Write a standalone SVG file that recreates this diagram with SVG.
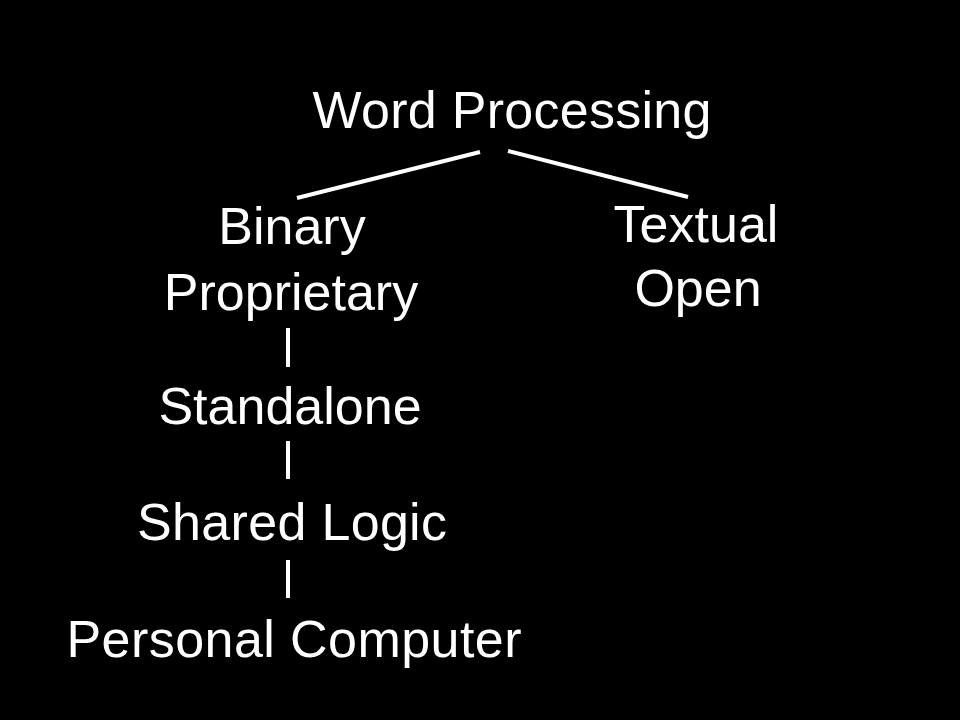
<svg xmlns="http://www.w3.org/2000/svg" width="960" height="720" viewBox="0 0 960 720">
<style>
text{font-family:"Liberation Sans",Arial,sans-serif;font-size:52px;fill:#fff;text-anchor:middle}
.c{stroke:#fff;stroke-width:4;fill:none}
</style>
<rect width="960" height="720" fill="#000"/>
<g id="connectors">
<line class="c" x1="297" y1="198" x2="480" y2="152"/>
<line class="c" x1="508" y1="151" x2="688" y2="197"/>
<line class="c" x1="288" y1="328" x2="288" y2="367"/>
<line class="c" x1="288" y1="441" x2="288" y2="479"/>
<line class="c" x1="288" y1="560" x2="288" y2="598"/>
</g>
<g id="word-processing"><text x="512" y="128" textLength="399">Word Processing</text></g>
<g id="binary-proprietary"><text x="292" y="244">Binary</text><text x="291" y="310">Proprietary</text></g>
<g id="textual-open"><text x="696" y="242">Textual</text><text x="698" y="306">Open</text></g>
<g id="standalone"><text x="290" y="424">Standalone</text></g>
<g id="shared-logic"><text x="292" y="540" textLength="310">Shared Logic</text></g>
<g id="personal-computer"><text x="294" y="657" textLength="455">Personal Computer</text></g>
</svg>
